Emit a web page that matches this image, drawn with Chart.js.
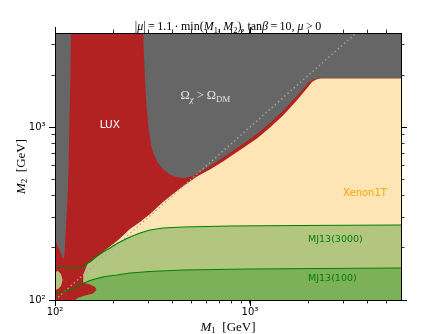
<!DOCTYPE html>
<html>
<head>
<meta charset="utf-8">
<script src="https://cdn.jsdelivr.net/npm/chart.js@4.4.1/dist/chart.umd.min.js"></script>
<style>
  html, body { margin: 0; padding: 0; background: #fff; }
  canvas { display: block; }
</style>
</head>
<body>
<canvas id="chart" width="445" height="334"></canvas>
<script>
// axis ranges, GeV
const m1Range = [100, 5950];
const m2Range = [100, 3500];
const majorTicks = [100, 1000];

// region outlines as [M1, M2] pairs in GeV
const relicRegion = [[100, 100], [5950, 100], [5950, 3500], [100, 3500]];

const luxRegion = [
  [100, 100], [100, 3500], [283, 3500], [286, 2612], [289.5, 1872], [294.6, 1342], [301.7, 988],
  [310.7, 788], [321.9, 690], [337.5, 620], [357.9, 572], [384.3, 536], [417.4, 514.5], [458.6, 508],
  [504.2, 518], [554.2, 550], [623.5, 596], [727, 667], [888.8, 777], [1086, 912], [1267, 1056],
  [1476, 1239], [1701, 1473], [1870, 1661], [1984, 1798], [2105, 1885], [2233, 1910], [5950, 1910],
  [5950, 100]
];

const relicSliver = [
  [100, 3500], [120.8, 3500], [120.1, 2138], [118.7, 1099], [117.3, 565], [115.9, 379], [113.9, 271.5],
  [112.5, 208], [111.9, 182], [110.6, 172.6], [108.6, 179.7], [105.5, 194.6], [102.4, 210.8], [100, 228.3]
];

const xenonRegion = [
  [178.4, 192], [191.4, 203.9], [208, 219.4], [223.3, 236], [242.4, 257.4], [272.9, 282.6], [307, 314.3],
  [357.9, 368.8], [437.5, 441.3], [534.8, 518], [623.5, 568.6], [727, 632.4], [888.8, 737], [1086, 859],
  [1267, 994.5], [1476, 1167], [1701, 1387], [1870, 1574], [1984, 1706], [2080, 1823], [2181, 1885],
  [2313, 1910], [5950, 1910], [5950, 100], [178.4, 100]
];

const mj3000Line = [
  [100, 156.2], [108.6, 154.2], [119.4, 153.1], [131.2, 153.1], [140.8, 158.3], [147.6, 163.7],
  [151.1, 165.9], [162.3, 177.3], [176.3, 189.5], [191.4, 199.8], [208, 212.2], [225.9, 222.3],
  [242.4, 231.4], [272.9, 244.1], [307, 254], [357.9, 260.9], [453.3, 264.4], [789.6, 267.9],
  [1805, 269.7], [5950, 271.5]
];
const mj100Line = [
  [100, 108.3], [108.6, 111.2], [119.4, 114.2], [129.7, 118.9], [139.2, 124.6], [151.1, 129.7],
  [164.2, 133.1], [180.5, 136.8], [208, 139.5], [242.4, 143.3], [307, 146.2], [453.3, 149.1],
  [1000, 151.1], [2286, 152.1], [5950, 153.1]
];

// edges where the LUX blob cuts into the MJ13 bands (lower left)
const mj3000LuxEdge = [[140.8, 125.2], [139.2, 130.5], [140, 139.5], [143.3, 151.1]];
const mj100LuxEdge = [
  [5950, 100], [126.6, 100], [131.2, 102.7], [142.5, 106.2], [156.6, 109], [163.3, 114.2],
  [160.4, 118.9], [151.1, 122.9], [140.8, 125.2]
];
const mjPatch = [[100, 145.2], [103.6, 147.2], [107.3, 141.4], [109.3, 130.5], [107.3, 120.5], [103.6, 115.8], [100, 114.2]];

const diagonal = [[100, 100], [3500, 3500]];

const toPts = arr => arr.map(([x, y]) => ({ x, y }));

const mj3000Region = mj3000Line.slice(5).concat(mj100Line.slice(5).reverse(), mj3000LuxEdge);
const mj100Region = mj100Line.slice(5).concat(mj100LuxEdge);

const SERIF = '"Liberation Serif", "DejaVu Serif", serif';
const SANS = '"DejaVu Sans", sans-serif';

const inPlotLabels = [
  { at: [191, 1040], parts: [{ t: 'LUX', fam: SANS }], size: 10.5, color: '#ffffff', align: 'center' },
  { at: [590, 1540], parts: [{ t: 'Ω' }, { t: 'χ', it: 1, sub: 1 }, { t: ' > Ω' }, { t: 'DM', sub: 1 }], size: 12.5, color: '#e4e4e4', align: 'center' },
  { at: [3890, 420], parts: [{ t: 'Xenon1T', fam: SANS }], size: 10, color: '#ffa500', align: 'center' },
  { at: [1985, 227], parts: [{ t: 'MJ13(3000)', fam: SANS }], size: 9.5, color: '#008000', align: 'left' },
  { at: [1985, 134], parts: [{ t: 'MJ13(100)', fam: SANS }], size: 9.5, color: '#008000', align: 'left' }
];

const titleParts = [
  { t: '|' }, { t: 'μ', it: 1 }, { t: '|\u2009=\u20091.1\u2009·\u2009min(' }, { t: 'M', it: 1 }, { t: '1', sub: 1 },
  { t: ',\u2009' }, { t: 'M', it: 1 }, { t: '2', sub: 1 }, { t: '), tan' }, { t: 'β', it: 1 },
  { t: '\u2009=\u200910, ' }, { t: 'μ', it: 1 }, { t: '\u2009>\u20090' }
];
const xTitleParts = [{ t: 'M', it: 1 }, { t: '1', sub: 1 }, { t: '  [GeV]' }];
const yTitleParts = [{ t: 'M', it: 1 }, { t: '2', sub: 1 }, { t: '  [GeV]' }];

function drawParts(ctx, parts, x, y, size, color, align) {
  const fontOf = p => `${p.it ? 'italic ' : ''}${p.sub ? size * 0.7 : size}px ${p.fam || SERIF}`;
  ctx.save();
  ctx.fillStyle = color;
  ctx.textBaseline = 'alphabetic';
  let w = 0;
  for (const p of parts) { ctx.font = fontOf(p); w += ctx.measureText(p.t).width; }
  let cx = align === 'left' ? x : x - w / 2;
  const base = y + size * 0.35;
  for (const p of parts) {
    ctx.font = fontOf(p);
    ctx.fillText(p.t, cx, base + (p.sub ? size * 0.22 : 0));
    cx += ctx.measureText(p.t).width;
  }
  ctx.restore();
}

const textPlugin = {
  id: 'texts',
  afterDatasetsDraw(chart) {
    const { ctx, scales: { x, y } } = chart;
    inPlotLabels.forEach(l => {
      drawParts(ctx, l.parts, x.getPixelForValue(l.at[0]), y.getPixelForValue(l.at[1]), l.size, l.color, l.align);
    });
  },
  afterDraw(chart) {
    const { ctx, chartArea: a, scales } = chart;
    const cx = (a.left + a.right) / 2;
    drawParts(ctx, titleParts, cx, 26, 12, '#000', 'center');
    drawParts(ctx, xTitleParts, cx, 326, 13, '#000', 'center');
    ctx.save();
    ctx.translate(20, (a.top + a.bottom) / 2);
    ctx.rotate(-Math.PI / 2);
    drawParts(ctx, yTitleParts, 0, 0, 13, '#000', 'center');
    ctx.restore();

    // longer marks for the decade ticks
    ctx.save();
    ctx.strokeStyle = '#000';
    ctx.lineWidth = 1;
    ctx.beginPath();
    majorTicks.forEach(v => {
      const px = Math.round(scales.x.getPixelForValue(v)) + 0.5;
      const py = Math.round(scales.y.getPixelForValue(v)) + 0.5;
      ctx.moveTo(px, a.bottom); ctx.lineTo(px, a.bottom + 6);
      ctx.moveTo(px, a.top); ctx.lineTo(px, a.top - 6);
      ctx.moveTo(a.left, py); ctx.lineTo(a.left - 6, py);
      ctx.moveTo(a.right, py); ctx.lineTo(a.right + 6, py);
    });
    ctx.stroke();
    ctx.restore();
  }
};

function area(label, pts, color, order) {
  return { label, data: toPts(pts), showLine: true, borderWidth: 0, pointRadius: 0, backgroundColor: color, fill: 'shape', order };
}
function curve(label, pts, color, width, dash, order) {
  return { label, data: toPts(pts), showLine: true, borderColor: color, borderWidth: width, borderDash: dash, pointRadius: 0, fill: false, order };
}

const sup = { 2: '²', 3: '³', 4: '⁴' };
const decadeLabel = v => {
  const e = Math.log10(v);
  return Math.abs(e - Math.round(e)) < 1e-9 ? '10' + sup[Math.round(e)] : '';
};
const keepRound = s => {
  s.ticks = s.ticks.filter(t => {
    const sig = t.value / Math.pow(10, Math.floor(Math.log10(t.value) + 1e-9));
    return Math.abs(sig - Math.round(sig)) < 1e-6;
  });
};

function logAxis(axis, position, range, labels, size) {
  return {
    type: 'logarithmic', axis, position, min: range[0], max: range[1],
    afterBuildTicks: keepRound,
    afterFit: s => { if (axis === 'x') s.height = size; else s.width = size; },
    border: { display: true, color: '#000', width: 1, z: 1 },
    grid: { display: true, drawOnChartArea: false, drawTicks: true, tickLength: 3.5, tickColor: '#000', tickWidth: 0.8 },
    ticks: {
      display: labels, autoSkip: false, maxRotation: 0, padding: axis === 'x' ? 3 : 6,
      color: '#000', font: { family: SANS, size: 10 }, callback: decadeLabel
    }
  };
}

new Chart(document.getElementById('chart'), {
  type: 'scatter',
  data: {
    datasets: [
      area('relic', relicRegion, '#666666', 20),
      area('LUX', luxRegion, '#b22222', 19),
      area('Xenon1T', xenonRegion, '#ffe4b5', 18),
      area('MJ13(3000)', mj3000Region, '#b3c67f', 17),
      area('MJ13(100)', mj100Region, '#7db159', 16),
      area('patch', mjPatch, '#b3c67f', 15),
      area('relic sliver', relicSliver, '#666666', 14),
      curve('M1 = M2', diagonal, '#a8a8a8', 1.4, [1.4, 2.8], 3),
      curve('MJ13(3000) line', mj3000Line, '#008000', 1.2, [], 2),
      curve('MJ13(100) line', mj100Line, '#008000', 1.2, [], 1)
    ]
  },
  options: {
    responsive: false,
    animation: false,
    events: [],
    layout: { padding: 0, autoPadding: false },
    plugins: { legend: { display: false }, tooltip: { enabled: false }, title: { display: false } },
    scales: {
      x: logAxis('x', 'bottom', m1Range, true, 34),
      x2: logAxis('x', 'top', m1Range, false, 33),
      y: logAxis('y', 'left', m2Range, true, 55),
      y2: logAxis('y', 'right', m2Range, false, 44)
    }
  },
  plugins: [textPlugin]
});
</script>
</body>
</html>
